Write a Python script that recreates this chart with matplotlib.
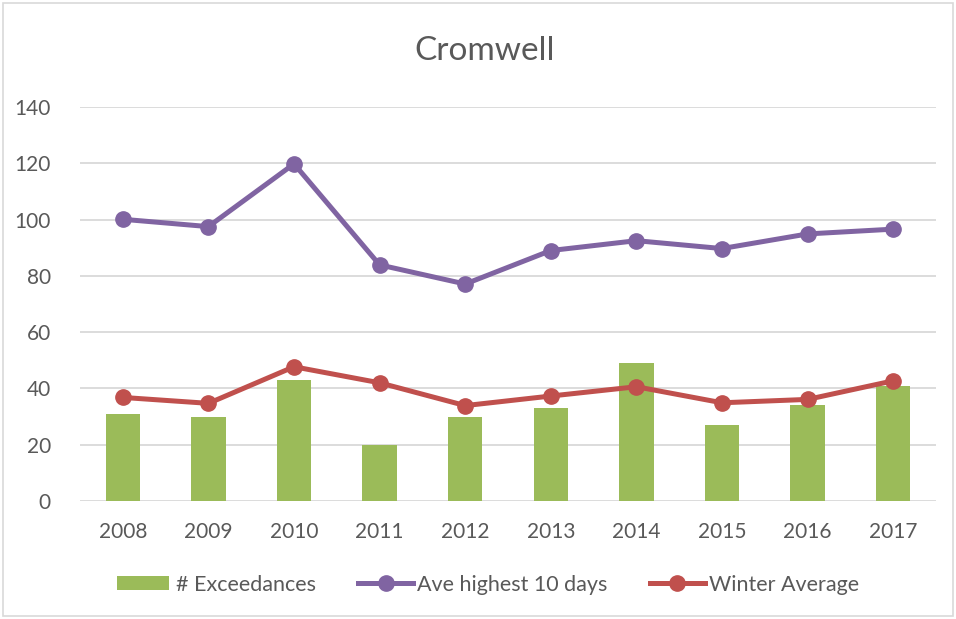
import numpy as np
import matplotlib.pyplot as plt
from matplotlib.patches import Rectangle
from matplotlib.lines import Line2D
from matplotlib.legend_handler import HandlerPatch

plt.rcParams['font.family'] = ['Lato', 'DejaVu Sans']

years = ['2008', '2009', '2010', '2011', '2012', '2013', '2014', '2015', '2016', '2017']
exceedances = [31, 30, 43, 20, 30, 33, 49, 27, 34, 41]
ave_high10 = [100.1, 97.5, 119.8, 83.9, 77.1, 89.0, 92.5, 89.7, 94.9, 96.6]
winter_avg = [36.8, 34.7, 47.7, 42.0, 33.9, 37.3, 40.6, 34.9, 36.1, 42.7]

green = '#9BBB59'
purple = '#8064A2'
red = '#C0504D'
txt = '#595959'

fig = plt.figure(figsize=(9.56, 6.19), dpi=100)
ax = fig.add_axes([80/956, 1-501/619, 856/956, 394/619])

x = np.arange(len(years))
ax.bar(x, exceedances, width=0.4, color=green, zorder=2)
ax.plot(x, ave_high10, color=purple, lw=3.6, marker='o', ms=11, zorder=3)
ax.plot(x, winter_avg, color=red, lw=3.6, marker='o', ms=11, zorder=3)

ax.set_xlim(-0.5, len(years)-0.5)
ax.set_ylim(0, 140)
ax.set_yticks(range(0, 141, 20))
ax.set_xticks(x)
ax.set_xticklabels(years)
ax.grid(axis='y', color='#D9D9D9', lw=1.3, zorder=0)
for s in ax.spines.values():
    s.set_visible(False)
ax.tick_params(length=0, labelsize=15, labelcolor=txt)
ax.tick_params(axis='y', pad=21)
ax.tick_params(axis='x', pad=15)

fig.text(485/956, 1-51/619, 'Cromwell', ha='center', va='center', fontsize=24, color=txt)


class FlatPatch(HandlerPatch):
    # wide, flat legend key like the spreadsheet one
    def create_artists(self, legend, orig, xd, yd, width, height, fontsize, trans):
        h = 14 * 72 / 100
        p = Rectangle((xd, yd + (height - h) / 2), width * 0.95, h,
                      facecolor=orig.get_facecolor(), edgecolor='none', transform=trans)
        return [p]


handles = [Rectangle((0, 0), 1, 1, color=green),
           Line2D([], [], color=purple, lw=3.6, marker='o', ms=11),
           Line2D([], [], color=red, lw=3.6, marker='o', ms=11)]
labels = ['# Exceedances', 'Ave highest 10 days', 'Winter Average']
fig.legend(handles, labels, loc='center', bbox_to_anchor=(488/956, 1-585/619), ncol=3,
           frameon=False, fontsize=15.5, labelcolor=txt, handlelength=2.55,
           handletextpad=0.2, columnspacing=1.95,
           handler_map={Rectangle: FlatPatch()})

fig.patches.append(Rectangle((3/956, 3/619), 950/956, 613/619, transform=fig.transFigure,
                             fill=False, edgecolor='#D9D9D9', lw=1.2))

fig.savefig('out.png', dpi=100)
